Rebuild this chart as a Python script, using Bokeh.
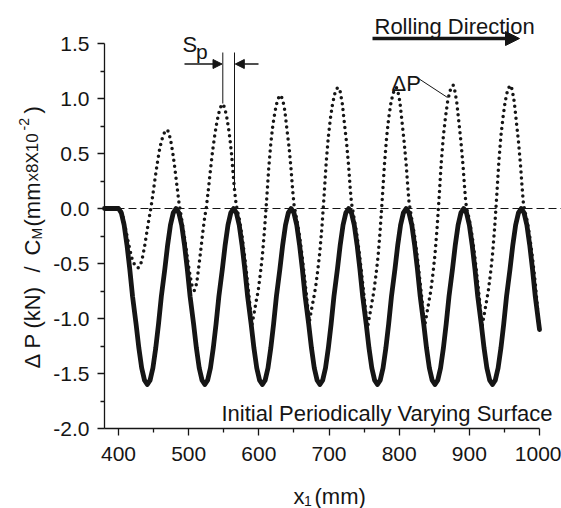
import math
from bokeh.plotting import figure
from bokeh.models import (Range1d, FixedTicker, Label, Arrow, NormalHead, CustomJSTickFormatter,
                          LinearAxis)
from bokeh.embed import file_html
from bokeh.resources import INLINE

# ---------------- data ----------------
# initial periodically varying surface (solid line)
solid_x = [380, 390, 400,
           404, 408, 412, 416, 420, 425, 429, 433, 437, 441,
           445, 449, 453, 457, 461, 466, 470, 474, 478, 482,
           486, 490, 494, 498, 502, 507, 511, 515, 519, 523,
           527, 531, 535, 539, 543, 548, 552, 556, 560, 564,
           568, 572, 576, 580, 584, 589, 593, 597, 601, 605,
           609, 613, 617, 621, 625, 630, 634, 638, 642, 646,
           650, 654, 658, 662, 666, 671, 675, 679, 683, 687,
           691, 695, 699, 703, 707, 712, 716, 720, 724, 728,
           732, 736, 740, 744, 748, 753, 757, 761, 765, 769,
           773, 777, 781, 785, 789, 794, 798, 802, 806, 810,
           814, 818, 822, 826, 830, 835, 839, 843, 847, 851,
           855, 859, 863, 867, 871, 876, 880, 884, 888, 892,
           896, 900, 904, 908, 912, 917, 921, 925, 929, 933,
           937, 941, 945, 949, 953, 958, 962, 966, 970, 974,
           978, 982, 986, 990, 994, 999, 1000]
solid_y = [0.0, 0.0, 0.0,
           -0.04, -0.15, -0.33, -0.55, -0.80, -1.05, -1.27, -1.45, -1.56, -1.60,
           -1.56, -1.45, -1.27, -1.05, -0.80, -0.55, -0.33, -0.15, -0.04, 0.0,
           -0.04, -0.15, -0.33, -0.55, -0.80, -1.05, -1.27, -1.45, -1.56, -1.60,
           -1.56, -1.45, -1.27, -1.05, -0.80, -0.55, -0.33, -0.15, -0.04, 0.0,
           -0.04, -0.15, -0.33, -0.55, -0.80, -1.05, -1.27, -1.45, -1.56, -1.60,
           -1.56, -1.45, -1.27, -1.05, -0.80, -0.55, -0.33, -0.15, -0.04, 0.0,
           -0.04, -0.15, -0.33, -0.55, -0.80, -1.05, -1.27, -1.45, -1.56, -1.60,
           -1.56, -1.45, -1.27, -1.05, -0.80, -0.55, -0.33, -0.15, -0.04, 0.0,
           -0.04, -0.15, -0.33, -0.55, -0.80, -1.05, -1.27, -1.45, -1.56, -1.60,
           -1.56, -1.45, -1.27, -1.05, -0.80, -0.55, -0.33, -0.15, -0.04, 0.0,
           -0.04, -0.15, -0.33, -0.55, -0.80, -1.05, -1.27, -1.45, -1.56, -1.60,
           -1.56, -1.45, -1.27, -1.05, -0.80, -0.55, -0.33, -0.15, -0.04, 0.0,
           -0.04, -0.15, -0.33, -0.55, -0.80, -1.05, -1.27, -1.45, -1.56, -1.60,
           -1.56, -1.45, -1.27, -1.05, -0.80, -0.55, -0.33, -0.15, -0.04, 0.0,
           -0.04, -0.15, -0.33, -0.55, -0.80, -1.05, -1.10]

# Delta P (dotted line)
dp_x = [380, 390, 400, 404, 407, 410, 413, 416, 419, 422, 425, 428,
        431, 434, 437, 440, 443, 446, 449, 452, 455, 458, 461, 464, 467, 469,
        471, 474, 477, 480, 483, 486, 488,
        490, 493, 496, 499, 502, 505, 508,
        510, 512, 514, 517, 520, 523, 525, 528, 531, 534, 537, 540, 543, 546, 548.5,
        551, 554, 557, 559, 561, 563, 565, 567, 569,
        572, 576, 580, 584, 587, 590,
        593, 596, 599, 602, 605, 608, 611, 614, 617, 620, 623, 626, 629, 631,
        634, 637, 640, 643, 646, 648, 650, 652,
        654, 658, 662, 666, 669, 672,
        675, 678, 681, 684, 687, 690, 693, 696, 699, 702, 705, 708, 711, 713,
        716, 719, 722, 725, 728, 730, 732, 734,
        736, 740, 744, 748, 752, 755,
        758, 761, 764, 767, 770, 773, 776, 779, 782, 785, 788, 791, 794, 796,
        798, 801, 804, 807, 810, 812, 814, 816,
        818, 822, 826, 830, 833, 836,
        839, 842, 845, 848, 851, 854, 857, 860, 863, 866, 869, 872, 875, 877,
        879, 882, 885, 888, 891, 893, 895, 897,
        900, 904, 908, 912, 915, 918,
        921, 924, 927, 930, 933, 936, 939, 942, 945, 948, 951, 954, 957, 959,
        961, 964, 967, 970, 973, 975, 977, 979,
        982, 986, 990, 994, 997, 1000]
dp_y = [0.0, 0.0, 0.0, -0.03, -0.09, -0.18, -0.28, -0.37, -0.45, -0.50, -0.53, -0.54,
        -0.52, -0.45, -0.35, -0.23, -0.11, 0.0, 0.13, 0.27, 0.40, 0.52, 0.61, 0.67, 0.71, 0.715,
        0.70, 0.63, 0.52, 0.38, 0.22, 0.06, -0.02,
        -0.10, -0.22, -0.35, -0.49, -0.61, -0.71, -0.745,
        -0.72, -0.65, -0.55, -0.39, -0.22, -0.07, 0.0, 0.17, 0.35, 0.52, 0.66, 0.78, 0.87, 0.93, 0.95,
        0.92, 0.84, 0.72, 0.62, 0.50, 0.34, 0.19, 0.07, -0.01,
        -0.09, -0.25, -0.45, -0.68, -0.86, -1.06,
        -0.96, -0.85, -0.75, -0.60, -0.43, -0.20, 0.07, 0.36, 0.59, 0.76, 0.88, 0.97, 1.02, 1.03,
        0.99, 0.89, 0.72, 0.56, 0.35, 0.18, 0.04, -0.03,
        -0.10, -0.25, -0.45, -0.68, -0.86, -1.03,
        -0.92, -0.82, -0.71, -0.56, -0.39, -0.16, 0.12, 0.42, 0.65, 0.82, 0.95, 1.04, 1.09, 1.10,
        1.06, 0.95, 0.77, 0.60, 0.38, 0.20, 0.05, -0.02,
        -0.10, -0.25, -0.45, -0.68, -0.92, -1.08,
        -0.97, -0.86, -0.75, -0.60, -0.43, -0.19, 0.10, 0.40, 0.64, 0.82, 0.95, 1.04, 1.09, 1.10,
        1.07, 0.97, 0.79, 0.61, 0.40, 0.22, 0.06, -0.02,
        -0.10, -0.25, -0.45, -0.68, -0.86, -1.08,
        -0.97, -0.86, -0.75, -0.60, -0.42, -0.18, 0.11, 0.42, 0.66, 0.83, 0.97, 1.06, 1.11, 1.12,
        1.08, 0.97, 0.79, 0.61, 0.39, 0.21, 0.05, -0.02,
        -0.10, -0.25, -0.45, -0.68, -0.86, -1.08,
        -0.97, -0.86, -0.75, -0.60, -0.42, -0.18, 0.11, 0.42, 0.66, 0.83, 0.97, 1.06, 1.11, 1.12,
        1.08, 0.97, 0.79, 0.61, 0.39, 0.21, 0.05, -0.02,
        -0.10, -0.25, -0.45, -0.68, -0.90, -1.12]

x_ticks = [400, 500, 600, 700, 800, 900, 1000]
x_tick_labels = ["400", "500", "600", "700", "800", "900", "1000"]
x_minor = [450, 550, 650, 750, 850, 950]
y_ticks = [-2.0, -1.5, -1.0, -0.5, 0.0, 0.5, 1.0, 1.5]
y_tick_labels = ["-2.0", "-1.5", "-1.0", "-0.5", "0.0", "0.5", "1.0", "1.5"]
y_minor = [-1.75, -1.25, -0.75, -0.25, 0.25, 0.75, 1.25]

# ---------------- layout ----------------
W, H = 561, 508
FL, FR, FT, FB = 104, 539, 43, 428      # where the axes box sits on the page (px)
X0, X1 = 380, 1000                      # axis extents (data)
Y0, Y1 = -2.0, 1.5
SX = (FR - FL) / (X1 - X0)
SY = (FB - FT) / (Y1 - Y0)
XL, XR = X0 - FL / SX, X0 + (W - FL) / SX   # ranges cover the whole page
YB, YT = Y1 - (H - FT) / SY, Y1 + FT / SY
FONT = "Liberation Sans"
INK = "#151515"


def dx(px):
    return XL + px / SX


def dy(py):
    return YT - py / SY


p = figure(width=W, height=H, x_range=Range1d(XL, XR), y_range=Range1d(YB, YT),
           output_backend="svg", toolbar_location=None, title=None,
           x_axis_type=None, y_axis_type=None,
           min_border=0, min_border_left=0, min_border_right=0,
           min_border_top=0, min_border_bottom=0)
p.outline_line_color = None
p.background_fill_color = "white"
p.border_fill_color = "white"

fmt_code = "const i = tvals.findIndex(t => Math.abs(t - tick) < 1e-6); return i >= 0 ? tlabels[i] : '';"
xaxis = LinearAxis(fixed_location=Y0, bounds=(X0, X1),
                   ticker=FixedTicker(ticks=x_ticks, minor_ticks=x_minor),
                   formatter=CustomJSTickFormatter(args=dict(tvals=x_ticks, tlabels=x_tick_labels), code=fmt_code))
yaxis = LinearAxis(fixed_location=X0, bounds=(Y0, Y1),
                   ticker=FixedTicker(ticks=y_ticks, minor_ticks=y_minor),
                   formatter=CustomJSTickFormatter(args=dict(tvals=y_ticks, tlabels=y_tick_labels), code=fmt_code))
for ax in (xaxis, yaxis):
    ax.axis_line_color = INK
    ax.axis_line_width = 1.3
    ax.major_tick_line_color = INK
    ax.major_tick_line_width = 1.3
    ax.minor_tick_line_color = INK
    ax.minor_tick_line_width = 1.3
    ax.major_tick_out = 7
    ax.major_tick_in = 0
    ax.minor_tick_out = 4
    ax.minor_tick_in = 0
    ax.major_label_text_font = FONT
    ax.major_label_text_font_size = "21px"
    ax.major_label_text_color = INK
xaxis.major_label_standoff = 11
yaxis.major_label_standoff = 8
p.add_layout(xaxis, "below")
p.add_layout(yaxis, "left")

# zero reference line (from the y axis to the right edge)
p.segment(x0=[X0], y0=[0.0], x1=[XR], y1=[0.0], line_color=INK, line_width=1.1, line_dash="8 4")

# curves
p.line(solid_x, solid_y, line_width=4.8, line_color=INK, line_join="round", line_cap="round")
p.line(dp_x, dp_y, line_width=3.5, line_color=INK, line_dash="0 6", line_cap="round", line_join="round")


def label(text, px, py, size, align="left", baseline="alphabetic", angle=0.0):
    p.add_layout(Label(x=dx(px), y=dy(py), text=text, text_font=FONT, text_font_size=f"{size}px",
                       text_color=INK, text_align=align, text_baseline=baseline, angle=angle))


def seg(x0, y0, x1, y1, width=1.0, head=None):
    p.add_layout(Arrow(x_start=dx(x0), y_start=dy(y0), x_end=dx(x1), y_end=dy(y1),
                       line_color=INK, line_width=width, end=head))


# Rolling direction
label("Rolling Direction", 374, 26, 22)
seg(372, 38, 519, 38, width=3.4,
    head=NormalHead(size=14, fill_color=INK, line_color=INK, line_width=1))

# Delta P label with leader
label("ΔP", 391, 83, 22)
seg(418, 78, 447, 97, width=1.0)

# S_p marker
label("S", 182, 43.5, 22)
label("p", 195.5, 50.5, 21)
seg(222.3, 52, 222.3, 103, width=1.0)
seg(234, 52, 234, 190, width=1.0)
seg(184, 63.5, 221.5, 63.5, width=1.4, head=NormalHead(size=9, fill_color=INK, line_color=INK, line_width=1))
seg(258, 63.5, 234.8, 63.5, width=1.4, head=NormalHead(size=9, fill_color=INK, line_color=INK, line_width=1))

# surface annotation
label("Initial Periodically Varying Surface", 221, 413, 22)

# x-axis title: x1 (mm)
label("x", 293, 496, 22)
label("1", 303.5, 500, 14)
label("(mm)", 314, 496, 22)

# y-axis title (rotated, reads bottom-to-top): (text, start y px, size, baseline x px)
yl = [("Δ", 368, 22, 32), ("P", 348, 22, 32), ("(kN)", 328, 22, 32), ("/", 272, 22, 32),
      ("C", 255, 22, 32), ("M", 239, 14, 36), ("(mm", 226, 22, 32), ("x8X10", 181, 17, 32),
      ("-2", 130, 14, 23), (")", 113, 22, 32)]
for t, sy, sz, bx in yl:
    label(t, bx, sy, sz, angle=math.pi / 2)

open("out.html", "w").write(file_html(p, INLINE))
